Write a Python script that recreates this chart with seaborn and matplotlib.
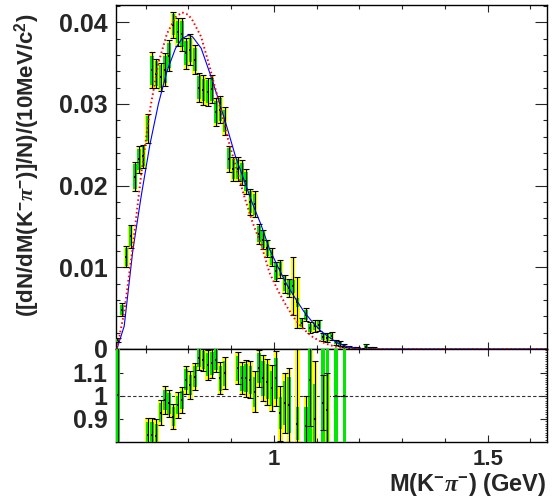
import matplotlib
matplotlib.use('Agg')
import matplotlib.pyplot as plt
import seaborn as sns
import numpy as np
from matplotlib.ticker import MultipleLocator, FixedLocator

# ---------------- data ----------------
bin_center = [0.635, 0.645, 0.655, 0.665, 0.675, 0.685, 0.695, 0.705, 0.715, 0.725,
              0.735, 0.745, 0.755, 0.765, 0.775, 0.785, 0.795, 0.805, 0.815, 0.825,
              0.835, 0.845, 0.855, 0.865, 0.875, 0.885, 0.895, 0.905, 0.915, 0.925,
              0.935, 0.945, 0.955, 0.965, 0.975, 0.985, 0.995, 1.005, 1.015, 1.025,
              1.035, 1.045, 1.055, 1.065, 1.075, 1.085, 1.095, 1.105, 1.115, 1.125,
              1.135, 1.145, 1.155, 1.165, 1.175, 1.185, 1.195, 1.205, 1.215, 1.225,
              1.235]
dndm = [0.0011, 0.0048, 0.0113, 0.0138, 0.0211, 0.0232, 0.0236, 0.0270, 0.0341, 0.0337,
        0.0333, 0.0342, 0.0359, 0.0397, 0.0388, 0.0385, 0.0362, 0.0366, 0.0354, 0.0320,
        0.0317, 0.0315, 0.0318, 0.0290, 0.0293, 0.0279, 0.0233, 0.0220, 0.0220, 0.0216,
        0.0205, 0.0180, 0.0177, 0.0141, 0.0134, 0.0123, 0.0112, 0.0095, 0.0098, 0.0080,
        0.0075, 0.0077, 0.0057, 0.0032, 0.0042, 0.0026, 0.0028, 0.0029, 0.0015, 0.0014,
        0.0016, 0.0008, 0.0007, 0.0004, 0.0002, 0.0001, 0.0001, 0.0000, 0.0003, 0.0001,
        0.0001]
err_total = [0.0003, 0.0008, 0.0013, 0.0014, 0.0018, 0.0016, 0.0014, 0.0018, 0.0022, 0.0018,
             0.0017, 0.0020, 0.0019, 0.0016, 0.0017, 0.0020, 0.0019, 0.0019, 0.0018, 0.0018,
             0.0018, 0.0017, 0.0017, 0.0017, 0.0017, 0.0017, 0.0016, 0.0015, 0.0015, 0.0015,
             0.0015, 0.0016, 0.0016, 0.0012, 0.0012, 0.0011, 0.0011, 0.0012, 0.0011, 0.0011,
             0.0011, 0.0035, 0.0031, 0.0006, 0.0008, 0.0007, 0.0007, 0.0007, 0.0005, 0.0005,
             0.0005, 0.0003, 0.0003, 0.0002, 0.0002, 0.0001, 0.0001, 0.0001, 0.0003, 0.0001,
             0.0001]
err_stat = [0.0002, 0.0006, 0.0011, 0.0012, 0.0015, 0.0013, 0.0012, 0.0015, 0.0018, 0.0015,
            0.0014, 0.0016, 0.0015, 0.0013, 0.0014, 0.0016, 0.0015, 0.0015, 0.0014, 0.0014,
            0.0014, 0.0014, 0.0014, 0.0014, 0.0014, 0.0014, 0.0013, 0.0012, 0.0012, 0.0012,
            0.0012, 0.0013, 0.0013, 0.0010, 0.0010, 0.0009, 0.0009, 0.0010, 0.0009, 0.0009,
            0.0009, 0.0008, 0.0006, 0.0005, 0.0006, 0.0005, 0.0005, 0.0005, 0.0004, 0.0004,
            0.0004, 0.0002, 0.0002, 0.0002, 0.0001, 0.0001, 0.0001, 0.0001, 0.0002, 0.0001,
            0.0001]

curve_x = [0.633, 0.65, 0.67, 0.69, 0.71, 0.73, 0.75, 0.77, 0.785, 0.80, 0.81, 0.83,
           0.85, 0.87, 0.89, 0.91, 0.93, 0.95, 0.97, 0.99, 1.01, 1.03, 1.05, 1.07,
           1.09, 1.11, 1.13, 1.15, 1.17, 1.20, 1.64]
fit_blue = [0.0, 0.0028, 0.0120, 0.0188, 0.0250, 0.0300, 0.0340, 0.0368, 0.0380, 0.0384,
            0.0382, 0.0368, 0.0338, 0.0306, 0.0272, 0.0236, 0.0207, 0.0178, 0.0152, 0.0122,
            0.0100, 0.0079, 0.0062, 0.0046, 0.0033, 0.0022, 0.0014, 0.0007, 0.0003, 0.0,
            0.0]
fit_red = [0.0, 0.0045, 0.0125, 0.0215, 0.0292, 0.0350, 0.0386, 0.0406, 0.0412, 0.0409,
           0.0402, 0.0382, 0.0345, 0.0305, 0.0262, 0.0225, 0.0188, 0.0155, 0.0128, 0.0093,
           0.0071, 0.0052, 0.0036, 0.0024, 0.0015, 0.0009, 0.0005, 0.0002, 0.0001, 0.0,
           0.0]

ratio_x = [0.635, 0.705, 0.715, 0.725, 0.735, 0.745, 0.755, 0.765, 0.775, 0.785,
           0.795, 0.805, 0.815, 0.825, 0.835, 0.845, 0.855, 0.865, 0.875, 0.885,
           0.915, 0.925, 0.935, 0.945, 0.955, 0.965, 0.975, 0.985, 0.995, 1.005,
           1.015, 1.025, 1.035, 1.055, 1.075, 1.085, 1.095, 1.115, 1.125, 1.145,
           1.165]
ratio_val = [1.005, 0.83, 0.83, 0.825, 0.928, 0.983, 0.968, 0.910, 0.961, 0.983,
             1.070, 1.048, 1.084, 1.164, 1.157, 1.135, 1.142, 1.157, 1.077, 1.099,
             1.120, 1.077, 1.077, 1.070, 1.019, 1.120, 1.077, 1.062, 1.033, 1.077,
             0.925, 0.968, 0.961, 0.880, 0.870, 1.070, 0.900, 0.970, 0.940, 1.000,
             1.000]
ratio_err_total = [0.60, 0.075, 0.075, 0.075, 0.055, 0.060, 0.060, 0.055, 0.055, 0.055,
                   0.060, 0.060, 0.060, 0.050, 0.050, 0.065, 0.065, 0.055, 0.070, 0.070,
                   0.070, 0.070, 0.080, 0.080, 0.090, 0.080, 0.100, 0.100, 0.100, 0.120,
                   0.120, 0.130, 0.160, 0.400, 0.130, 0.200, 0.250, 0.120, 0.160, 0.000,
                   0.000]
ratio_err_stat = [0.50, 0.055, 0.055, 0.055, 0.040, 0.045, 0.045, 0.040, 0.040, 0.040,
                  0.045, 0.045, 0.045, 0.040, 0.040, 0.050, 0.050, 0.045, 0.055, 0.055,
                  0.055, 0.055, 0.060, 0.060, 0.065, 0.065, 0.075, 0.075, 0.075, 0.090,
                  0.070, 0.095, 0.120, 0.070, 0.080, 0.300, 0.150, 0.300, 0.300, 0.500,
                  0.500]

y_ticks = [0.0, 0.01, 0.02, 0.03, 0.04]
y_ticklabels = ['0', '0.01', '0.02', '0.03', '0.04']
r_ticks = [0.9, 1.0, 1.1]
r_ticklabels = ['0.9', '1', '1.1']
x_ticks = [1.0, 1.5]
x_ticklabels = ['1', '1.5']

# ---------------- style ----------------
sns.set_style('ticks')
plt.rcParams['font.family'] = ['Liberation Sans', 'DejaVu Sans']
plt.rcParams['font.weight'] = 'bold'
plt.rcParams['mathtext.fontset'] = 'custom'
plt.rcParams['mathtext.rm'] = 'Liberation Sans:bold'
plt.rcParams['mathtext.it'] = 'Liberation Serif:italic'
plt.rcParams['mathtext.bf'] = 'Liberation Sans:bold'
plt.rcParams['patch.force_edgecolor'] = False

W, H = 552, 497
fig = plt.figure(figsize=(W / 100, H / 100), dpi=100)
fig.patch.set_facecolor('white')
L, R = 116, 546.5
ax1 = fig.add_axes([L / W, 1 - 349 / H, (R - L) / W, 344 / H])
ax2 = fig.add_axes([L / W, 1 - 442 / H, (R - L) / W, 93 / H])

XMIN, XMAX = 0.6308, 1.6375

def draw_points(ax, x, v, et, es, wy=0.0108, wg=0.0082):
    v = np.asarray(v); et = np.asarray(et); es = np.asarray(es)
    ax.bar(x, 2 * et, bottom=v - et, width=wy, color='#ffff00',
           edgecolor='none', linewidth=0, zorder=2)
    ax.bar(x, 2 * es, bottom=v - es, width=wg, color='#00e800',
           edgecolor='none', linewidth=0, zorder=3)
    ax.errorbar(x, v, yerr=et, fmt='none', ecolor='black', elinewidth=0.8,
                capsize=2.0, capthick=0.8, zorder=4)
    sns.scatterplot(x=x, y=v, ax=ax, marker='s', s=2.5, color='black',
                    linewidth=0, zorder=5, legend=False)

# ---------------- top panel ----------------
draw_points(ax1, bin_center, dndm, err_total, err_stat)
sns.lineplot(x=curve_x, y=fit_blue, ax=ax1, color='#0000ff', lw=0.8,
             zorder=6, estimator=None, sort=False)
sns.lineplot(x=curve_x, y=fit_red, ax=ax1, color='#ff0000', lw=1.4,
             linestyle=(0, (0.8, 1.4)), zorder=6, estimator=None, sort=False)

ax1.set_xlim(XMIN, XMAX)
ax1.set_ylim(0, 0.0421)
ax1.yaxis.set_major_locator(FixedLocator(y_ticks))
ax1.set_yticklabels(y_ticklabels)
ax1.yaxis.set_minor_locator(MultipleLocator(0.002))
ax1.xaxis.set_major_locator(FixedLocator(x_ticks))
ax1.xaxis.set_minor_locator(MultipleLocator(0.1))
ax1.tick_params(axis='y', which='major', direction='in', length=9, width=0.8,
                left=True, right=True, labelsize=18, pad=6)
ax1.tick_params(axis='y', which='minor', direction='in', length=3.2, width=0.8,
                left=True, right=True)
ax1.tick_params(axis='x', which='major', direction='in', length=5, width=0.8,
                top=True, bottom=True, labelbottom=False)
ax1.tick_params(axis='x', which='minor', direction='in', length=3, width=0.8,
                top=True, bottom=True)
ax1.set_xlabel('')
ax1.set_ylabel('')

# ---------------- ratio panel ----------------
ax2.axhline(1.0, color='#333333', lw=0.8, linestyle=(0, (3, 2)), zorder=1)
draw_points(ax2, ratio_x, ratio_val, ratio_err_total, ratio_err_stat)
ax2.set_xlim(XMIN, XMAX)
ax2.set_ylim(0.8, 1.204)
ax2.yaxis.set_major_locator(FixedLocator(r_ticks))
ax2.set_yticklabels(r_ticklabels)
ax2.yaxis.set_minor_locator(MultipleLocator(0.01))
ax2.xaxis.set_major_locator(FixedLocator(x_ticks))
ax2.set_xticklabels(x_ticklabels)
ax2.xaxis.set_minor_locator(MultipleLocator(0.1))
ax2.tick_params(axis='y', which='major', direction='in', length=5, width=0.8,
                left=True, right=True, labelsize=18, pad=6)
ax2.tick_params(axis='y', which='minor', direction='in', length=1.8, width=0.6,
                left=True, right=True)
ax2.tick_params(axis='x', which='major', direction='in', length=5, width=0.8,
                top=True, bottom=True, labelsize=16, pad=5)
ax2.tick_params(axis='x', which='minor', direction='in', length=3, width=0.8,
                top=True, bottom=True)
ax2.set_xlabel('')
ax2.set_ylabel('')

for ax in (ax1, ax2):
    for s in ax.spines.values():
        s.set_linewidth(1.0)
        s.set_color('black')
    ax.set_facecolor('white')

fig.text(R / W, 1 - 484 / H, r'M(K$^{-}\pi^{-}$) (GeV)', ha='right', va='center',
         fontsize=17, fontweight='bold')
fig.text(27 / W, 1 - 165 / H, r'([dN/dM(K$^{-}\pi^{-}$)]/N)/(10MeV/c$^{2}$)',
         rotation=90, ha='center', va='center', fontsize=16, fontweight='bold')

fig.savefig('out.png', dpi=100)
